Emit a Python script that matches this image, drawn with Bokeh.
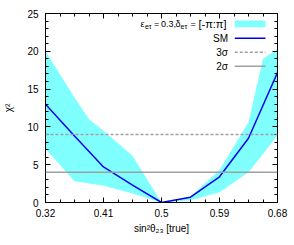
from bokeh.plotting import figure
from bokeh.models import (Range1d, LinearAxis, FixedTicker, SingleIntervalTicker,
                          Span, Label, Arrow, BoxAnnotation)
from bokeh.embed import file_html
from bokeh.resources import INLINE
import numpy as np

# ---- data ----
sm_x = [0.32, 0.365, 0.41, 0.455, 0.5, 0.545, 0.59, 0.635, 0.68]
sm_chi2 = [13.0, 8.8, 4.7, 2.3, 0.0, 0.7, 3.4, 8.5, 17.2]

band_x = [0.32, 0.365, 0.3875, 0.41, 0.455, 0.5, 0.545, 0.59, 0.635, 0.6575, 0.68]
band_upper = [20.0, 13.9, 11.0, 9.5, 6.2, 0.0, 0.8, 4.3, 10.6, 19.0, 20.3]
band_lower = [7.1, 2.8, 2.5, 2.2, 1.2, 0.0, 0.3, 1.35, 4.0, 6.4, 8.9]

sigma3 = 9.0
sigma2 = 4.0

x_ticks = [0.32, 0.41, 0.5, 0.59, 0.68]
x_tick_labels = ["0.32", "0.41", "0.5", "0.59", "0.68"]

FONT = "Liberation Sans"
CYAN = "#80ffff"
BLUE = "#0000ee"
GRAY = "#a0a0a0"

# frame: page x 44..276, y 13..202
p = figure(frame_width=232, frame_height=189, output_backend="svg",
           toolbar_location=None, x_range=Range1d(0.32, 0.68), y_range=Range1d(0, 25),
           min_border_left=44, min_border_right=16, min_border_top=13, min_border_bottom=40,
           x_axis_label="sin²θ₂₃ [true]", y_axis_label="χ²")
p.grid.visible = False
p.outline_line_color = "black"
p.background_fill_color = "white"
p.border_fill_color = "white"

minor_x = list(np.round(np.arange(0.32, 0.68 + 1e-9, 0.0225), 4))

def style_axis(ax, labels=True):
    ax.axis_line_color = "black"
    ax.major_tick_in = 5
    ax.major_tick_out = 0
    ax.minor_tick_in = 3
    ax.minor_tick_out = 0
    ax.major_tick_line_color = "black"
    ax.minor_tick_line_color = "black"
    ax.major_label_text_font = FONT
    if labels:
        ax.major_label_text_font_size = "10px"
        ax.major_label_text_color = "black"
    else:
        ax.major_label_text_font_size = "1px"
        ax.major_label_text_color = None
        ax.major_label_standoff = 0
    ax.axis_label_text_font = FONT
    ax.axis_label_text_font_size = "10px"
    ax.axis_label_text_font_style = "normal"
    ax.axis_label_text_color = "black"

xa = p.xaxis[0]
xa.ticker = FixedTicker(ticks=x_ticks, minor_ticks=minor_x)
xa.major_label_overrides = {t: s for t, s in zip(x_ticks, x_tick_labels)}
style_axis(xa)
xa.major_label_standoff = 6
xa.axis_label_standoff = 3

ya = p.yaxis[0]
ya.ticker = SingleIntervalTicker(interval=5, num_minor_ticks=5)
style_axis(ya)
ya.major_label_standoff = 7
ya.axis_label_standoff = 10

top = LinearAxis(ticker=FixedTicker(ticks=x_ticks, minor_ticks=minor_x))
style_axis(top, labels=False)
p.add_layout(top, "above")
right = LinearAxis(ticker=SingleIntervalTicker(interval=5, num_minor_ticks=5))
style_axis(right, labels=False)
p.add_layout(right, "right")

# ---- data marks ----
p.varea(x=band_x, y1=band_lower, y2=band_upper, fill_color=CYAN, fill_alpha=1.0)
p.add_layout(Span(location=sigma3, dimension="width", line_color=GRAY, line_width=1.5, line_dash="3 2"))
p.add_layout(Span(location=sigma2, dimension="width", line_color=GRAY, line_width=1.5))
p.line(sm_x, sm_chi2, line_color=BLUE, line_width=1.5)

# ---- legend (label left, sample right); frame-relative pixels ----
def lab(text, px, py, size="10px", align="left"):
    p.add_layout(Label(x=px - 44, y=202 - py, x_units="screen", y_units="screen", text=text,
                       text_font=FONT, text_font_size=size, text_align=align,
                       text_baseline="middle", text_color="black"))

r1 = 23.3
rs = 25.8
lab("ε", 139, r1, size="9px")
lab("eτ", 143.4, rs, size="7px")
lab("=", 152.5, r1, size="9px")
lab("0.3,", 159.5, r1, size="9px")
lab("δ", 174, r1, size="9px")
lab("eτ", 179, rs, size="7px")
lab("=", 189, r1, size="9px")
lab("[-π:π]", 197, r1, size="11px")
lab("SM", 226.5, 37.7, align="right")
lab("3σ", 226.5, 51.7, align="right")
lab("2σ", 226.5, 65.7, align="right")

p.add_layout(BoxAnnotation(left=233.3 - 44, right=264 - 44, bottom=202 - 26.7, top=202 - 20,
                           left_units="screen", right_units="screen",
                           bottom_units="screen", top_units="screen",
                           fill_color=CYAN, fill_alpha=1.0, line_color=None))
for py, col, dash in [(37.7, BLUE, "solid"), (51.7, GRAY, "3 2"), (65.7, GRAY, "solid")]:
    p.add_layout(Arrow(end=None, x_start=233.3 - 44, y_start=202 - py, x_end=264 - 44, y_end=202 - py,
                       start_units="screen", end_units="screen",
                       line_color=col, line_width=1.5, line_dash=dash))

open("out.html", "w").write(file_html(p, INLINE))
